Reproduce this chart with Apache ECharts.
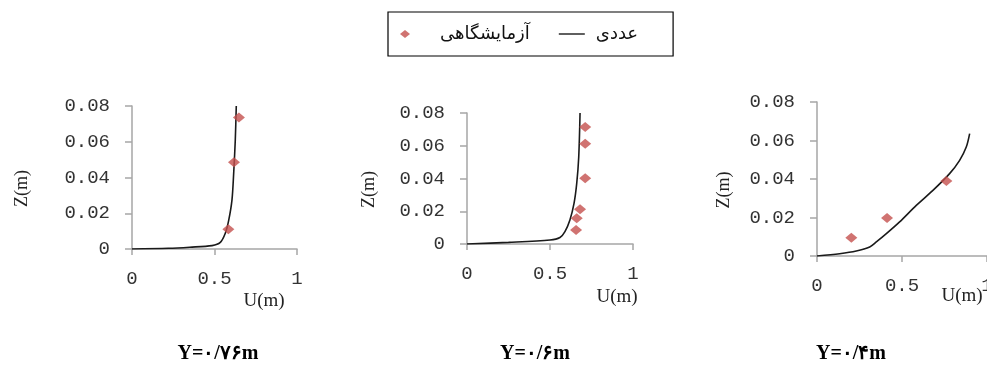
<!DOCTYPE html>
<html>
<head>
<meta charset="utf-8">
<script src="https://cdn.jsdelivr.net/npm/echarts@6/dist/echarts.min.js"></script>
<style>
  html, body { margin: 0; padding: 0; background: #fff; }
  #chart { width: 987px; height: 367px; }
</style>
</head>
<body>
<div id="chart"></div>
<script>
// سه نیمرخ سرعت، عددی (خط) و آزمایشگاهی (نقاط)
var numName = 'عددی';
var expName = 'آزمایشگاهی';
var panelLabels = ['Y=۰/۷۶m', 'Y=۰/۶m', 'Y=۰/۴m'];
var uTicks = [0, 0.5, 1];
var zTicks = [0, 0.02, 0.04, 0.06, 0.08];

// Y = 0.76
var num1U = [0, 0.22, 0.35, 0.485, 0.535, 0.566, 0.586, 0.606, 0.616, 0.626, 0.632];
var num1Z = [0, 0.0004, 0.001, 0.0019, 0.0037, 0.009, 0.016, 0.0275, 0.042, 0.061, 0.08];
var exp1U = [0.648, 0.618, 0.584];
var exp1Z = [0.0735, 0.0485, 0.011];

// Y = 0.6
var num2U = [0, 0.25, 0.5, 0.56, 0.59, 0.62, 0.645, 0.661, 0.673, 0.681];
var num2Z = [0, 0.001, 0.00245, 0.004, 0.0076, 0.0147, 0.025, 0.037, 0.053, 0.08];
var exp2U = [0.712, 0.712, 0.712, 0.681, 0.661, 0.657];
var exp2Z = [0.0714, 0.0612, 0.0402, 0.0212, 0.0157, 0.0086];

// Y = 0.4
var num3U = [0, 0.133, 0.231, 0.31, 0.349, 0.408, 0.486, 0.584, 0.682, 0.78, 0.839, 0.878, 0.898];
var num3Z = [0, 0.0012, 0.0026, 0.0047, 0.0073, 0.0116, 0.0177, 0.0263, 0.0341, 0.0428, 0.0497, 0.0566, 0.0636];
var exp3U = [0.202, 0.412, 0.761];
var exp3Z = [0.0095, 0.0197, 0.039];

function pairs(xs, ys) {
  var out = [];
  for (var i = 0; i < xs.length; i++) out.push([xs[i], ys[i]]);
  return out;
}

var panels = [
  {num: pairs(num1U, num1Z), exp: pairs(exp1U, exp1Z), grid: {left: 132, top: 106, width: 165, height: 143},
   uGap: -33, uPad: 43, zGap: 110, labelX: 218},
  {num: pairs(num2U, num2Z), exp: pairs(exp2U, exp2Z), grid: {left: 467, top: 113, width: 166, height: 131},
   uGap: -16, uPad: 44, zGap: 98, labelX: 535},
  {num: pairs(num3U, num3Z), exp: pairs(exp3U, exp3Z), grid: {left: 817, top: 102, width: 170, height: 154},
   uGap: -25, uPad: 31, zGap: 93, labelX: 851}
];

var axisGray = '#a6a6a6';
var labelFont = {color: '#333', fontFamily: 'Liberation Mono', fontSize: 19};

var grids = [], xAxes = [], yAxes = [], series = [], graphics = [];
panels.forEach(function (p, i) {
  grids.push(Object.assign({outerBoundsMode: 'none', containLabel: false}, p.grid));
  xAxes.push({
    gridIndex: i, type: 'value', min: uTicks[0], max: uTicks[uTicks.length - 1], interval: 0.5,
    name: 'U(m)', nameLocation: 'end', nameGap: p.uGap, nameMoveOverlap: false,
    nameTextStyle: {color: '#222', fontFamily: 'Liberation Serif', fontSize: 19,
      align: 'center', verticalAlign: 'top', padding: [p.uPad, 0, 0, 0]},
    axisLine: {lineStyle: {color: axisGray, width: 1.5}},
    axisTick: {length: 6, lineStyle: {color: axisGray, width: 1.5}},
    axisLabel: Object.assign({margin: 20, showMaxLabel: true}, labelFont),
    splitLine: {show: false}
  });
  yAxes.push({
    gridIndex: i, type: 'value', min: zTicks[0], max: zTicks[zTicks.length - 1], interval: 0.02,
    name: 'Z(m)', nameLocation: 'middle', nameRotate: 90, nameGap: p.zGap, nameMoveOverlap: false,
    nameTextStyle: {color: '#222', fontFamily: 'Liberation Serif', fontSize: 18,
      align: 'center', verticalAlign: 'middle', padding: [0, 22, 0, 0]},
    axisLine: {show: true, lineStyle: {color: axisGray, width: 1.5}},
    axisTick: {show: true, length: 7, lineStyle: {color: axisGray, width: 1.5}},
    axisLabel: Object.assign({margin: 22}, labelFont),
    splitLine: {show: false}
  });
  series.push({
    name: numName, type: 'line', xAxisIndex: i, yAxisIndex: i,
    data: p.num, symbol: 'none', smooth: 0.3,
    lineStyle: {color: '#1a1a1a', width: 1.6}, itemStyle: {color: '#1a1a1a'},
    z: 2
  });
  series.push({
    name: expName, type: 'scatter', xAxisIndex: i, yAxisIndex: i,
    data: p.exp, symbol: 'diamond', symbolSize: [12, 10],
    itemStyle: {color: '#c4504d'}, z: 3
  });
  graphics.push({
    type: 'text', x: p.labelX, y: 354,
    style: {text: panelLabels[i], align: 'center', verticalAlign: 'middle',
      fontFamily: 'Liberation Serif', fontWeight: 'bold', fontSize: 20, fill: '#000'}
  });
});

var chart = echarts.init(document.getElementById('chart'));
chart.setOption({
  backgroundColor: '#fff',
  animation: false,
  legend: {
    data: [
      {name: expName, icon: 'path://M0,0M45,8M15,0L20,4L15,8L10,4Z', itemStyle: {color: '#c4504d'}},
      {name: numName, icon: 'path://M0,0M45,8M13,3.3H39V4.7H13Z', itemStyle: {color: '#1a1a1a'}}
    ],
    left: 388, top: 12,
    padding: [13, 35, 13, 2],
    itemWidth: 45, itemHeight: 8, itemGap: 16,
    borderColor: '#000', borderWidth: 1.2, borderRadius: 0,
    textStyle: {fontFamily: 'DejaVu Sans', fontSize: 18, color: '#111'}
  },
  grid: grids,
  xAxis: xAxes,
  yAxis: yAxes,
  series: series,
  graphic: graphics
});
</script>
</body>
</html>
